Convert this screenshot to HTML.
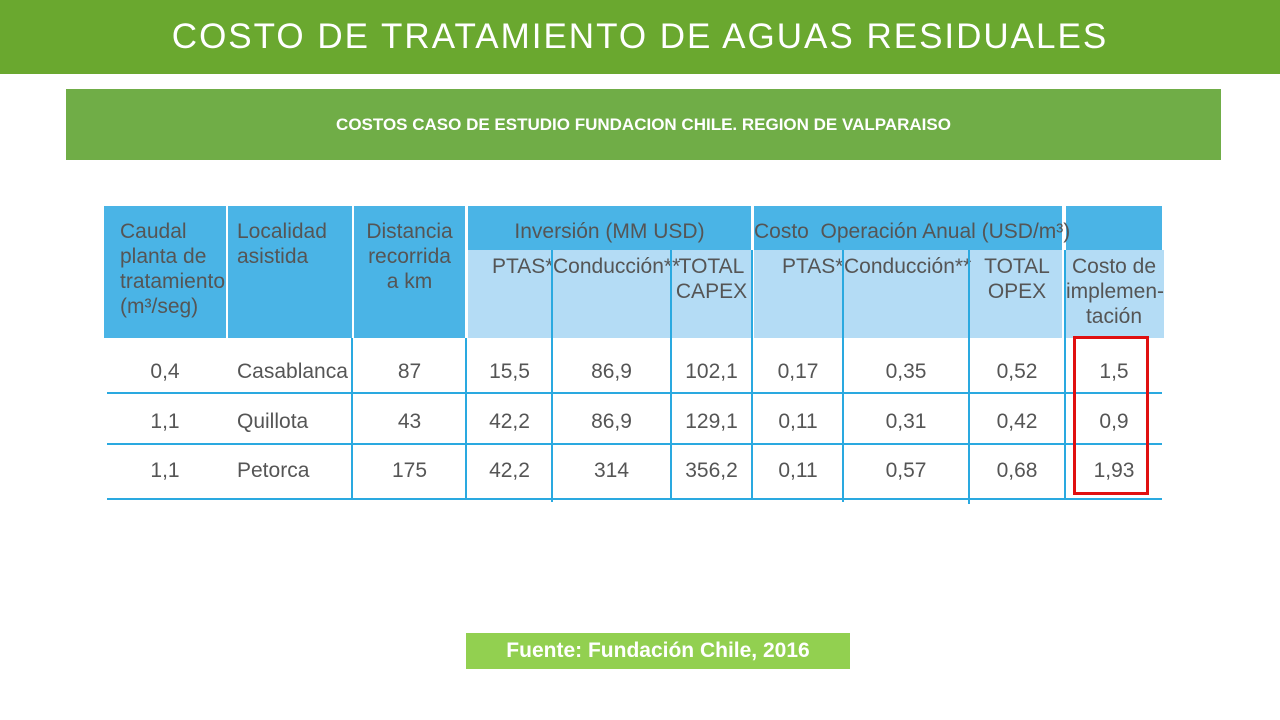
<!DOCTYPE html>
<html><head><meta charset="utf-8"><style>
body{margin:0;width:1280px;height:720px;background:#fff;position:relative;overflow:hidden;font-family:"Liberation Sans",sans-serif}
.a{position:absolute;box-sizing:border-box}
.t{position:absolute;font-family:"Liberation Sans Narrow","Liberation Sans",sans-serif;color:#555;font-size:21px;line-height:25px;white-space:nowrap}
.c{text-align:center}
.dk{background:#4ab4e6}
.lt{background:#b4dcf5}
.vl{position:absolute;width:2px;background:#2aa9e0}
.hl{position:absolute;height:2px;background:#2aa9e0}
</style></head><body>
<div class="a" style="left:0;top:0;width:1280px;height:74px;background:#6aa82f;color:#fff;font-size:35px;letter-spacing:2px;text-align:center;line-height:74px">COSTO DE TRATAMIENTO DE AGUAS RESIDUALES</div>
<div class="a" style="left:66px;top:89px;width:1155px;height:71px;background:#70ad47;color:#fff;font-size:17px;font-weight:bold;text-align:center;line-height:71px">COSTOS CASO DE ESTUDIO FUNDACION CHILE. REGION DE VALPARAISO</div>

<div>
<div class="a dk" style="left:104px;top:206px;width:122px;height:132px"></div>
<div class="a dk" style="left:228px;top:206px;width:124px;height:132px"></div>
<div class="a dk" style="left:354px;top:206px;width:111px;height:132px"></div>
<div class="a dk" style="left:468px;top:206px;width:283px;height:44px"></div>
<div class="a dk" style="left:754px;top:206px;width:308px;height:44px"></div>
<div class="a dk" style="left:1066px;top:206px;width:96px;height:44px"></div>
<div class="a lt" style="left:468px;top:250px;width:283px;height:88px"></div>
<div class="a lt" style="left:754px;top:250px;width:308px;height:88px"></div>
<div class="a lt" style="left:1066px;top:250px;width:98px;height:88px"></div>

<div class="t" style="left:120px;top:219px">Caudal<br>planta de<br>tratamiento<br>(m³/seg)</div>
<div class="t" style="left:237px;top:219px">Localidad<br>asistida</div>
<div class="t c" style="left:354px;top:219px;width:111px">Distancia<br>recorrida<br>a km</div>
<div class="t c" style="left:468px;top:219px;width:283px">Inversión (MM USD)</div>
<div class="t c" style="left:754px;top:219px;width:308px">Costo &nbsp;Operación Anual (USD/m³)</div>
<div class="t" style="left:492px;top:254px">PTAS*</div>
<div class="t c" style="left:553px;top:254px;width:117px">Conducción**</div>
<div class="t c" style="left:672px;top:254px;width:79px">TOTAL<br>CAPEX</div>
<div class="t" style="left:782px;top:254px">PTAS*</div>
<div class="t c" style="left:844px;top:254px;width:124px">Conducción**</div>
<div class="t c" style="left:970px;top:254px;width:94px">TOTAL<br>OPEX</div>
<div class="t c" style="left:1066px;top:254px;width:96px">Costo de<br>implemen-<br>tación</div>

<div class="vl" style="left:351px;top:338px;height:162px"></div>
<div class="vl" style="left:465px;top:338px;height:162px"></div>
<div class="vl" style="left:551px;top:250px;height:252px"></div>
<div class="vl" style="left:670px;top:250px;height:250px"></div>
<div class="vl" style="left:751px;top:250px;height:250px"></div>
<div class="vl" style="left:842px;top:250px;height:252px"></div>
<div class="vl" style="left:968px;top:250px;height:254px"></div>
<div class="vl" style="left:1064px;top:250px;height:250px"></div>
<div class="hl" style="left:107px;top:392px;width:1055px"></div>
<div class="hl" style="left:107px;top:443px;width:1055px"></div>
<div class="hl" style="left:107px;top:498px;width:1055px"></div>

<div class="t c" style="left:104px;top:359px;width:122px">0,4</div>
<div class="t" style="left:237px;top:359px">Casablanca</div>
<div class="t c" style="left:354px;top:359px;width:111px">87</div>
<div class="t c" style="left:468px;top:359px;width:83px">15,5</div>
<div class="t c" style="left:553px;top:359px;width:117px">86,9</div>
<div class="t c" style="left:672px;top:359px;width:79px">102,1</div>
<div class="t c" style="left:754px;top:359px;width:88px">0,17</div>
<div class="t c" style="left:844px;top:359px;width:124px">0,35</div>
<div class="t c" style="left:970px;top:359px;width:94px">0,52</div>
<div class="t c" style="left:1066px;top:359px;width:96px">1,5</div>

<div class="t c" style="left:104px;top:409px;width:122px">1,1</div>
<div class="t" style="left:237px;top:409px">Quillota</div>
<div class="t c" style="left:354px;top:409px;width:111px">43</div>
<div class="t c" style="left:468px;top:409px;width:83px">42,2</div>
<div class="t c" style="left:553px;top:409px;width:117px">86,9</div>
<div class="t c" style="left:672px;top:409px;width:79px">129,1</div>
<div class="t c" style="left:754px;top:409px;width:88px">0,11</div>
<div class="t c" style="left:844px;top:409px;width:124px">0,31</div>
<div class="t c" style="left:970px;top:409px;width:94px">0,42</div>
<div class="t c" style="left:1066px;top:409px;width:96px">0,9</div>

<div class="t c" style="left:104px;top:458px;width:122px">1,1</div>
<div class="t" style="left:237px;top:458px">Petorca</div>
<div class="t c" style="left:354px;top:458px;width:111px">175</div>
<div class="t c" style="left:468px;top:458px;width:83px">42,2</div>
<div class="t c" style="left:553px;top:458px;width:117px">314</div>
<div class="t c" style="left:672px;top:458px;width:79px">356,2</div>
<div class="t c" style="left:754px;top:458px;width:88px">0,11</div>
<div class="t c" style="left:844px;top:458px;width:124px">0,57</div>
<div class="t c" style="left:970px;top:458px;width:94px">0,68</div>
<div class="t c" style="left:1066px;top:458px;width:96px">1,93</div>
</div>
<div class="a" style="left:1073px;top:336px;width:76px;height:159px;border:3px solid #e01010"></div>

<div class="a" style="left:466px;top:633px;width:384px;height:36px;background:#92d050;color:#fff;font-size:21px;font-weight:bold;text-align:center;line-height:36px">Fuente: Fundación Chile, 2016</div>
</body></html>
